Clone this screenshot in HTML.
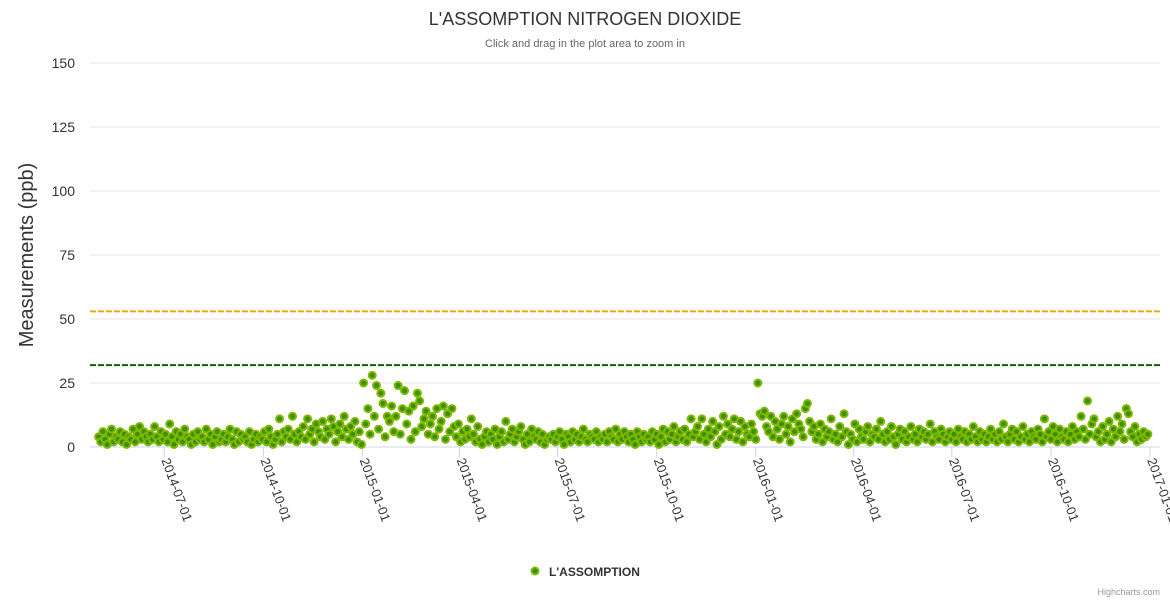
<!DOCTYPE html>
<html><head><meta charset="utf-8">
<style>
html,body{margin:0;padding:0;background:#fff;}
body{width:1170px;height:600px;overflow:hidden;font-family:"Liberation Sans",sans-serif;}
svg text{font-family:"Liberation Sans",sans-serif;}
</style></head>
<body>
<svg id="chart" width="1170" height="600" xmlns="http://www.w3.org/2000/svg">
<rect x="0" y="0" width="1170" height="600" fill="#fff"/>
<text x="585" y="25" text-anchor="middle" font-size="18" fill="#333">L'ASSOMPTION NITROGEN DIOXIDE</text>
<text x="585" y="47" text-anchor="middle" font-size="11" fill="#666">Click and drag in the plot area to zoom in</text>
<text transform="translate(33,255) rotate(-90)" text-anchor="middle" font-size="20" fill="#333">Measurements (ppb)</text>
<g id="grid"></g>
<g id="yticks"></g>
<g id="xticks"></g>
<g id="plotlines"></g>
<g id="points"></g>
<g>
<circle cx="535" cy="571" r="3.5" fill="#3d8f00" stroke="#7fb800" stroke-width="2"/>
<text x="549" y="576" font-size="12" font-weight="bold" fill="#333">L'ASSOMPTION</text>
</g>
<text x="1160" y="595" text-anchor="end" font-size="9" fill="#999">Highcharts.com</text>
</svg>
<script>
const yTicks=[0,25,50,75,100,125,150];
const xTickLabels=["2014-07-01","2014-10-01","2015-01-01","2015-04-01","2015-07-01","2015-10-01","2016-01-01","2016-04-01","2016-07-01","2016-10-01","2017-01-01"];
const plotLineValues=[53,32];
const plotLineColors=["#f0a30a","#006400"];
const startDate="2014-05-01";
const stepDays=2;
const values=[
4,2,6,3,1,5,7,2,4,3,6,2,5,1,4,3,7,2,5,8,3,6,4,2,5,3,8,4,2,6,
3,5,2,9,4,1,6,3,5,2,7,4,3,1,5,2,6,3,4,2,7,3,5,1,4,6,2,3,5,2,
4,7,3,1,6,2,5,3,4,2,6,1,3,5,2,4,3,6,2,7,4,1,3,5,11,2,6,4,7,3,
12,5,2,6,4,8,3,11,5,7,2,9,6,4,10,3,7,5,11,8,2,6,9,4,12,7,3,8,5,10,
2,6,1,25,9,15,5,28,12,24,7,21,17,4,12,10,16,6,12,24,5,15,22,9,14,3,16,6,21,18,
8,11,14,5,9,12,4,15,7,10,16,3,13,6,15,8,4,9,2,6,3,7,4,11,5,2,8,3,1,4,
6,2,5,3,7,1,4,6,2,10,3,5,7,2,4,6,8,3,1,5,2,7,4,3,6,2,5,1,3,4,
3,5,2,4,6,3,1,5,4,2,6,3,5,2,4,7,3,2,5,4,3,6,2,4,3,5,2,6,4,3,
7,2,5,3,6,4,2,5,3,1,6,4,2,5,3,4,2,6,3,5,1,4,7,2,6,3,5,8,2,4,
6,3,7,2,5,11,4,6,8,3,11,5,2,7,4,10,6,1,8,3,12,5,9,4,7,11,3,6,10,2,
8,5,4,9,6,3,25,13,12,14,8,6,12,4,10,7,3,9,12,5,8,2,11,6,13,9,7,4,15,17,
10,6,8,3,5,9,2,7,4,6,11,3,5,2,8,4,13,6,1,5,3,9,2,7,4,3,6,8,2,5,
4,7,3,10,5,2,6,3,8,4,1,5,7,3,6,2,4,8,3,5,2,7,4,6,3,5,9,2,6,4,
3,7,5,2,4,6,3,5,2,7,4,3,6,2,5,3,8,4,2,6,3,5,2,4,7,3,5,2,6,3,
9,4,2,5,7,3,6,2,4,8,3,5,2,6,4,3,7,5,2,11,4,6,3,8,5,2,7,4,3,6,
2,5,8,3,6,4,12,7,3,18,5,9,11,4,6,2,8,3,5,10,2,7,4,12,6,9,3,15,13,6,
4,8,2,5,3,6,4,5
];
const X0=90,X1=1160,Y0=447,YTOP=63,YMAX=150;
const refDate=new Date("2014-07-01T00:00:00Z").getTime();
const refX=164.3,pxPerDay=1.0773;
function xScale(t){return refX+(t-refDate)/86400000*pxPerDay;}
function yScale(v){return Y0-(v/YMAX)*(Y0-YTOP);}
const NS="http://www.w3.org/2000/svg";
function mk(tag,attrs,parent){const e=document.createElementNS(NS,tag);for(const k in attrs)e.setAttribute(k,attrs[k]);parent.appendChild(e);return e;}
const grid=document.getElementById('grid'),yt=document.getElementById('yticks'),xt=document.getElementById('xticks'),pl=document.getElementById('plotlines'),pts=document.getElementById('points');
yTicks.forEach(v=>{
  const y=yScale(v);
  const g=mk('line',{x1:X0,x2:X1,y1:y,y2:y,stroke:v===0?'#ccd6eb':'#e6e6e6','stroke-width':1},grid);
  
  
  const t=mk('text',{x:75,y:y+5,'text-anchor':'end','font-size':14,fill:'#333'},yt);
  t.textContent=v;
  
  
});
xTickLabels.forEach(s=>{
  const x=xScale(new Date(s+"T00:00:00Z").getTime());
  const l=mk('line',{x1:x,x2:x,y1:Y0,y2:Y0+10,stroke:'#ccd6eb','stroke-width':1},xt);
  
  
  const t=mk('text',{x:0,y:0,'font-size':13,fill:'#333',transform:'translate('+(x-3)+','+(Y0+13)+') rotate(70)'},xt);
  t.textContent=s;
  
  
});
plotLineValues.forEach((v,i)=>{
  const y=yScale(v);
  const l=mk('line',{x1:X0,x2:X1,y1:y,y2:y,stroke:plotLineColors[i],'stroke-width':2,'stroke-dasharray':'6,2'},pl);
  
  
});
const start=new Date(startDate+"T00:00:00Z").getTime();
values.forEach((v,i)=>{
  const t=start+i*stepDays*86400000;
  const c=mk('circle',{cx:xScale(t),cy:yScale(v),r:3.5,fill:'#3d8f00',stroke:'#7fb800','stroke-width':2},pts);
  
  
});
</script>
</body></html>
